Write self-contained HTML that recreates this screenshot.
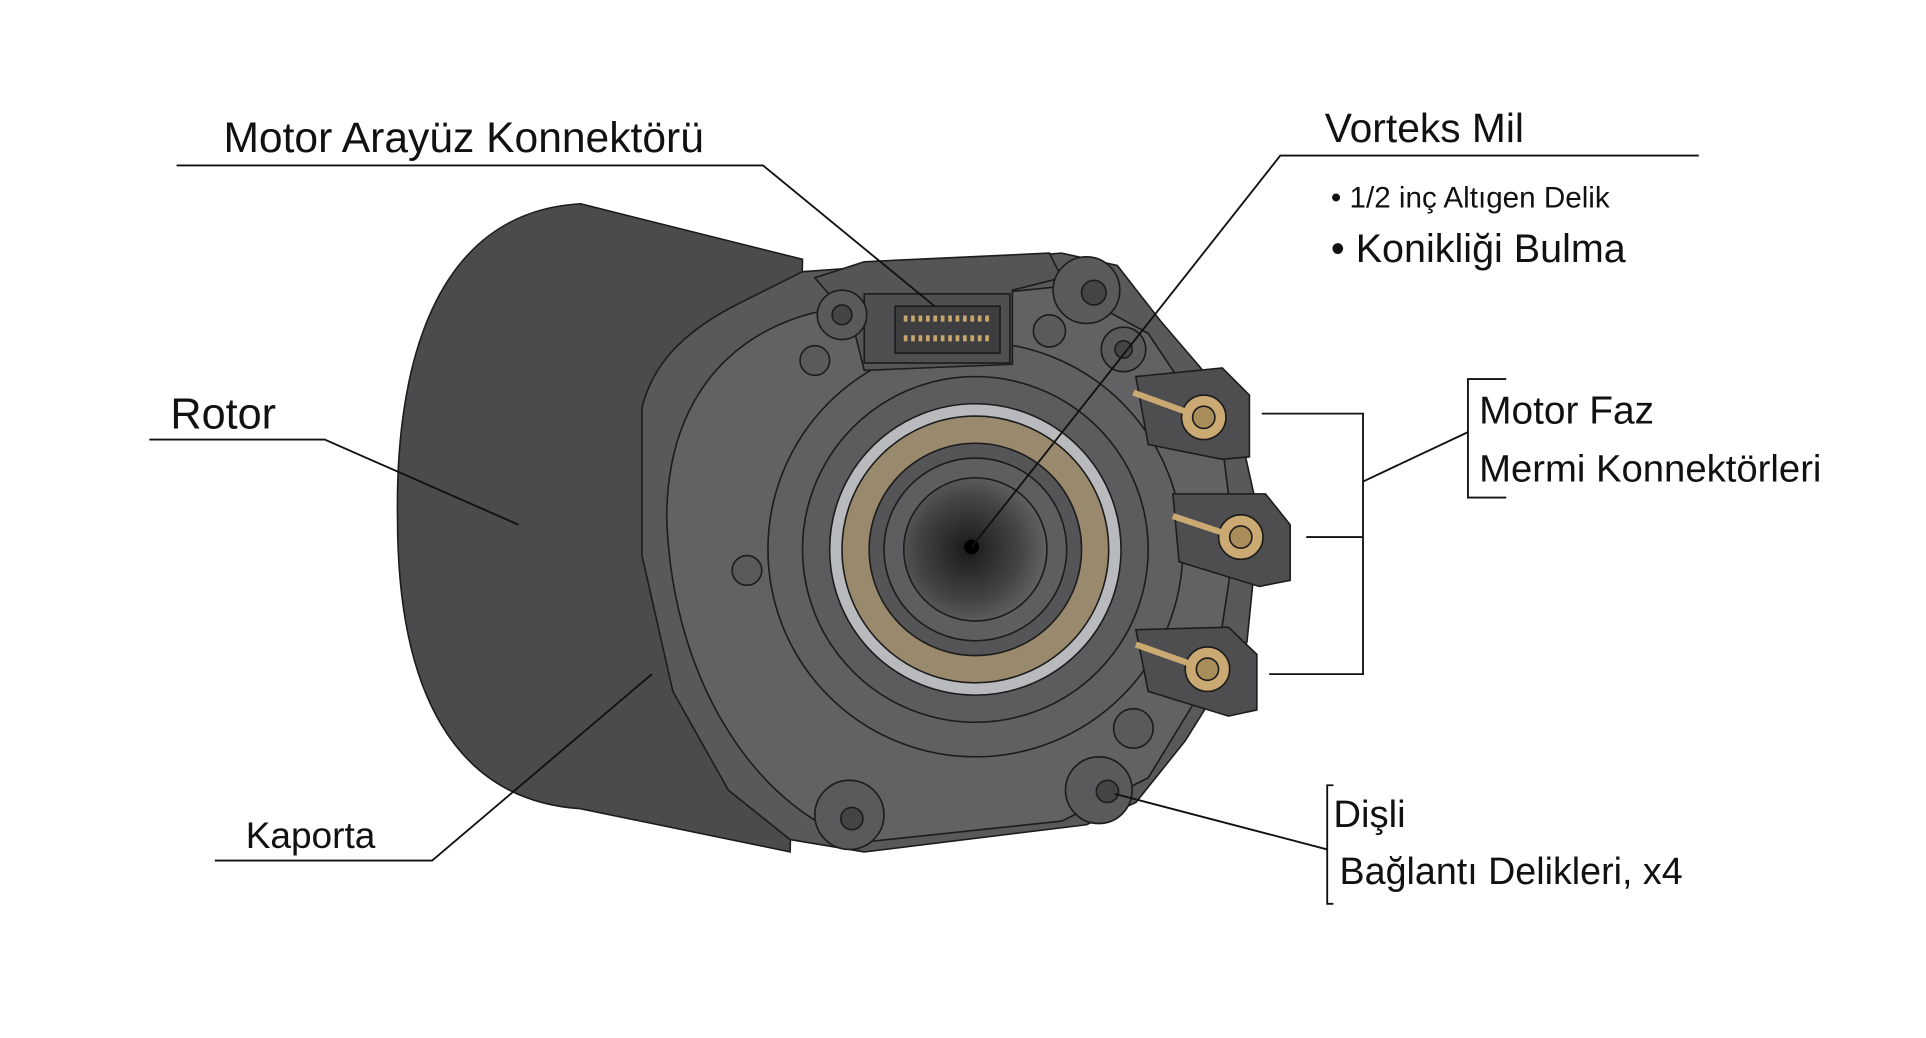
<!DOCTYPE html>
<html><head><meta charset="utf-8"><style>
html,body{margin:0;padding:0;background:#fff;}
svg{display:block}
text{font-family:"Liberation Sans","DejaVu Sans",sans-serif;fill:#111}
</style></head><body>
<svg width="1926" height="1038" viewBox="0 0 1560 840.7" xmlns="http://www.w3.org/2000/svg">
<defs>
<radialGradient id="bore" cx="0.45" cy="0.5" r="0.6">
<stop offset="0" stop-color="#1a1a1a"/><stop offset="0.6" stop-color="#444"/><stop offset="1" stop-color="#6a6a6c"/>
</radialGradient>
</defs>
<g stroke="#1c1c1c" stroke-width="1.3">
<path d="M470,165 C350,172 320,300 322,420 C322,560 368,648 470,655 L640,690 L650,210 Z" fill="#4b4b4d"/>
<path d="M520,330 C530,290 560,265 600,245 L650,220 L860,205 L905,215 L940,260 L1000,330 L1020,420 L1010,520 L960,600 L920,650 L880,668 L700,690 L640,680 L590,640 L545,560 L520,450 Z" fill="#59595b"/>
<path d="M540,420 C540,300 620,250 700,248 L860,232 L930,270 L990,360 L1000,440 L985,540 L930,630 L860,665 L700,682 C620,660 545,560 540,420 Z" fill="#626264"/>
<circle cx="790" cy="445" r="168" fill="#606062"/>
<circle cx="790" cy="445" r="140" fill="#5c5c5e"/>
<circle cx="790" cy="445" r="118" fill="#b9babd"/>
<circle cx="790" cy="445" r="108" fill="#9a8a6d"/>
<circle cx="790" cy="445" r="86" fill="#555557"/>
<circle cx="790" cy="445" r="74" fill="#5e5e60"/>
<circle cx="790" cy="445" r="58" fill="url(#bore)"/>
<path d="M660,225 L700,212 L850,205 L860,225 L820,235 L820,295 L700,300 L690,260 Z" fill="#555557"/>
<rect x="700" y="238" width="118" height="56" fill="#4f4f51"/>
<rect x="725" y="248" width="85" height="38" fill="#3e3e40"/>
<line x1="732" y1="258" x2="802" y2="258" stroke="#c6a66a" stroke-width="5" stroke-dasharray="3 3"/>
<line x1="732" y1="274" x2="802" y2="274" stroke="#c6a66a" stroke-width="5" stroke-dasharray="3 3"/>
<circle cx="880" cy="235" r="27" fill="#5a5a5c"/><circle cx="886" cy="237" r="10" fill="#444"/>
<circle cx="682" cy="255" r="20" fill="#5a5a5c"/><circle cx="682" cy="255" r="8" fill="#444"/>
<circle cx="850" cy="268" r="13" fill="#5a5a5c"/>
<circle cx="910" cy="283" r="18" fill="#5a5a5c"/><circle cx="910" cy="283" r="7" fill="#444"/>
<circle cx="660" cy="292" r="12" fill="#5a5a5c"/>
<circle cx="605" cy="462" r="12" fill="#5a5a5c"/>
<circle cx="918" cy="590" r="16" fill="#5a5a5c"/>
<circle cx="890" cy="640" r="27" fill="#5a5a5c"/><circle cx="897" cy="641" r="9" fill="#444"/>
<circle cx="688" cy="660" r="28" fill="#5a5a5c"/><circle cx="690" cy="663" r="9" fill="#444"/>
<g>
<path d="M920,305 L990,298 L1012,320 L1012,370 L990,372 L930,360 Z" fill="#4e4e50"/>
<circle cx="975" cy="338" r="18" fill="#caa972"/><circle cx="975" cy="338" r="9" fill="#a88c5a"/>
<path d="M918,318 L962,334" stroke="#caa972" stroke-width="5"/>
</g>
<g>
<path d="M950,400 L1025,400 L1045,425 L1045,470 L1020,475 L955,455 Z" fill="#4e4e50"/>
<circle cx="1005" cy="435" r="18" fill="#caa972"/><circle cx="1005" cy="435" r="9" fill="#a88c5a"/>
<path d="M950,418 L992,432" stroke="#caa972" stroke-width="5"/>
</g>
<g>
<path d="M920,510 L995,508 L1018,530 L1018,575 L995,580 L930,560 Z" fill="#4e4e50"/>
<circle cx="978" cy="542" r="18" fill="#caa972"/><circle cx="978" cy="542" r="9" fill="#a88c5a"/>
<path d="M920,522 L965,538" stroke="#caa972" stroke-width="5"/>
</g>
</g>
<circle cx="787" cy="443" r="6" fill="#000"/>
<g stroke="#111" stroke-width="1.5" fill="none">
<polyline points="143,134 618,134 757,248"/>
<polyline points="1376,126 1037,126 787,443"/>
<polyline points="121,356 263,356 420,425"/>
<polyline points="174,697 350,697 528,546"/>
<polyline points="1022,335 1104,335 1104,546 1028,546"/>
<line x1="1058" y1="435" x2="1104" y2="435"/>
<line x1="1104" y1="390" x2="1189" y2="350"/>
<polyline points="1220,307 1189,307 1189,403 1220,403"/>
<line x1="1075" y1="688" x2="903" y2="643"/>
<polyline points="1080,636 1075,636 1075,732 1080,732"/>
</g>
<text x="181" y="123" font-size="34.5">Motor Arayüz Konnektörü</text>
<text x="1073" y="115" font-size="33">Vorteks Mil</text>
<text x="1078" y="168" font-size="24">• 1/2 inç Altıgen Delik</text>
<text x="1078" y="212" font-size="32">• Konikliği Bulma</text>
<text x="138" y="347" font-size="35">Rotor</text>
<text x="1198" y="343" font-size="31.5">Motor Faz</text>
<text x="1198" y="390" font-size="31">Mermi Konnektörleri</text>
<text x="199" y="687" font-size="30">Kaporta</text>
<text x="1080" y="670" font-size="31">Dişli</text>
<text x="1085" y="716" font-size="30.5">Bağlantı Delikleri, x4</text>
</svg>
</body></html>
